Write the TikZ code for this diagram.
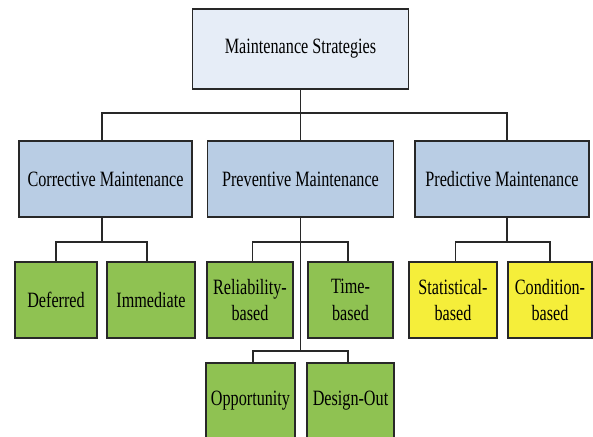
\documentclass[tikz,border=0pt]{standalone}
\usepackage{xcolor}
\usepackage{fontspec}
\setmainfont[FakeStretch=0.74]{Liberation Serif}
\usepackage{tikz}

\definecolor{topfill}{RGB}{230,237,247}
\definecolor{typefill}{RGB}{185,205,228}
\definecolor{leaffill}{RGB}{143,194,82}
\definecolor{predfill}{RGB}{245,238,58}
\definecolor{edgegray}{RGB}{40,40,40}

\begin{document}
\begin{tikzpicture}[x=0.75pt,y=0.75pt,yscale=-1,xscale=1,
        box/.style={draw=edgegray,line width=1.4pt,align=center,inner sep=2pt,minimum height=57pt,font=\fontsize{16.4}{20}\selectfont},
        link/.style={draw=edgegray,line width=1.1pt}]
        \clip (0,0) rectangle (593,436);
        \fill [white] (0,0) rectangle (593,436);

        \node [box,fill=topfill,minimum width=162pt,minimum height=60pt] (strat) at (300.5,49) {Maintenance Strategies};

        \node [box,fill=typefill,minimum width=129.75pt] (corr) at (105.5,179) {Corrective Maintenance};
        \node [box,fill=typefill,minimum width=139.5pt] (prev) at (300.5,179) {Preventive Maintenance};
        \node [box,fill=typefill,minimum width=130.5pt] (pred) at (502,179) {Predictive Maintenance};

        \node [box,fill=leaffill,minimum width=61.5pt] (defer) at (56,300) {Deferred};
        \node [box,fill=leaffill,minimum width=66pt] (immed) at (151,300) {Immediate};
        \node [box,fill=leaffill,minimum width=64.5pt] (relia) at (250,300) {Reliability-\\based};
        \node [box,fill=leaffill,minimum width=63.75pt] (timeb) at (350.5,300) {Time-\\based};
        \node [box,fill=predfill,minimum width=66pt] (stati) at (453,300) {Statistical-\\based};
        \node [box,fill=predfill,minimum width=63pt] (condi) at (550,300) {Condition-\\based};

        \node [box,fill=leaffill,minimum width=66.75pt] (oppor) at (250.5,401) {Opportunity};
        \node [box,fill=leaffill,minimum width=65.25pt] (desig) at (350.5,401) {Design-Out};

        \draw [link] (strat.south) -- ++(0,23) -| ([xshift=-2.6pt]corr.north);
        \draw [link] (strat.south) -- ++(0,23) -| ([xshift=3.75pt]pred.north);
        \draw [link] (strat.south) -- (prev.north);

        \draw [link] ([xshift=-2.6pt]corr.south) -- ++(0,24) -| (defer.north);
        \draw [link] ([xshift=-2.6pt]corr.south) -- ++(0,24) -| ([xshift=-3pt]immed.north);
        \draw [link] (prev.south) -- ++(0,24) -| ([xshift=2pt]relia.north);
        \draw [link] (prev.south) -- ++(0,24) -| ([xshift=-2pt]timeb.north);
        \draw [link] ([xshift=3.75pt]pred.south) -- ++(0,24) -| ([xshift=2pt]stati.north);
        \draw [link] ([xshift=3.75pt]pred.south) -- ++(0,24) -| (condi.north);

        \draw [link] (prev.south) -- ++(0,133) -| ([xshift=2pt]oppor.north);
        \draw [link] (prev.south) -- ++(0,133) -| ([xshift=-2pt]desig.north);
    \end{tikzpicture}
\end{document}
